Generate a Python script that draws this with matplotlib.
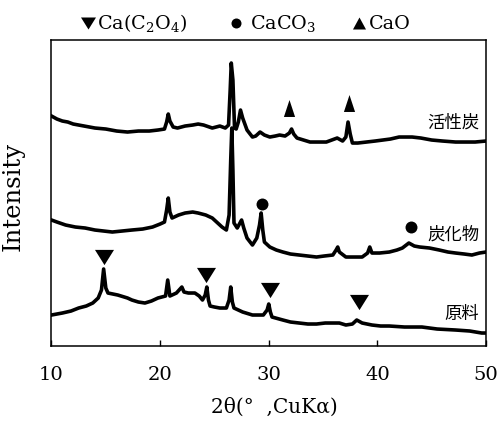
import matplotlib
matplotlib.use("Agg")
import matplotlib.pyplot as plt
from matplotlib.lines import Line2D

plt.rcParams["font.family"] = ["DejaVu Serif"]
plt.rcParams["mathtext.fontset"] = "dejavuserif"

# XRD patterns (2theta [deg], intensity [a.u.])
tt_act = [10.0, 10.5, 11.0, 11.5, 12.0, 12.5, 13.0, 13.5, 14.0, 15.0, 16.0, 17.0,
          18.0, 19.0, 19.8, 20.4, 20.6, 20.75, 20.9, 21.2, 21.6, 22.3, 23.0, 23.5,
          24.0, 24.8, 25.5, 26.0, 26.3, 26.45, 26.55, 26.7, 26.85, 27.0, 27.2, 27.4,
          27.6, 28.0, 28.5, 28.8, 29.2, 29.6, 30.1, 30.6, 31.0, 31.5, 31.9, 32.1,
          32.3, 32.6, 33.2, 33.8, 34.5, 35.3, 35.8, 36.3, 36.8, 37.1, 37.3, 37.5,
          37.7, 38.2, 39.0, 39.8, 40.5, 41.2, 42.0, 42.6, 43.2, 44.0, 45.0, 46.0,
          47.2, 48.0, 49.0, 50.0]
int_act = [229, 226, 224, 223, 221, 220, 219, 218, 217, 216, 214, 213,
           214, 214, 215, 216, 223, 231, 224, 218, 217, 219, 220, 221,
           220, 217, 219, 217, 220, 255, 282, 265, 217, 216, 223, 235,
           227, 215, 208, 209, 213, 210, 208, 209, 210, 209, 212, 216,
           211, 207, 205, 203, 203, 203, 205, 207, 204, 208, 223, 211,
           202, 202, 203, 204, 205, 206, 208, 208, 208, 207, 205, 204,
           203, 203, 203, 204]

tt_char = [10.0, 10.5, 11.3, 12.2, 13.1, 14.0, 14.8, 15.6, 16.5, 17.4, 18.4, 19.3,
           20.0, 20.4, 20.6, 20.75, 20.9, 21.1, 21.7, 22.3, 23.0, 23.5, 24.2, 24.8,
           25.2, 25.7, 26.1, 26.35, 26.5, 26.6, 26.7, 26.8, 27.1, 27.3, 27.5, 27.7,
           28.0, 28.5, 28.9, 29.15, 29.3, 29.45, 29.6, 30.1, 30.7, 31.3, 32.0, 32.8,
           33.6, 34.4, 35.1, 35.9, 36.2, 36.35, 36.5, 37.1, 37.8, 38.6, 39.1, 39.3,
           39.5, 40.2, 41.1, 41.8, 42.3, 42.9, 43.4, 43.9, 44.8, 45.7, 46.5, 47.2,
           48.0, 48.7, 49.4, 50.0]
int_char = [125, 123, 120, 118, 117, 115, 114, 113, 114, 115, 116, 118,
            121, 123, 135, 147, 133, 127, 130, 132, 133, 132, 130, 127,
            123, 118, 115, 130, 185, 217, 175, 122, 117, 121, 125, 117,
            107, 100, 107, 120, 132, 115, 103, 98, 95, 93, 91, 90,
            89, 88, 89, 90, 95, 98, 93, 88, 88, 88, 92, 98,
            92, 92, 93, 95, 97, 102, 99, 98, 97, 95, 93, 92,
            91, 90, 92, 93]

tt_raw = [10.0, 11.0, 11.8, 12.5, 13.2, 13.8, 14.3, 14.6, 14.8, 15.0, 15.2, 16.1,
          17.0, 17.4, 18.0, 18.6, 19.2, 19.8, 20.5, 20.7, 20.9, 21.5, 22.0, 22.2,
          22.6, 23.2, 23.6, 23.9, 24.15, 24.3, 24.45, 24.6, 25.0, 25.5, 26.1, 26.35,
          26.5, 26.65, 26.8, 27.6, 28.5, 29.5, 29.85, 30.0, 30.15, 30.3, 31.3, 32.0,
          32.8, 33.6, 34.4, 35.2, 35.9, 36.5, 37.1, 37.7, 38.1, 38.6, 39.5, 40.3,
          41.1, 42.5, 44.1, 45.5, 47.2, 48.5, 49.6, 50.0]
int_raw = [30, 32, 34, 37, 39, 42, 47, 55, 76, 57, 52, 50,
           47, 45, 43, 42, 44, 47, 49, 65, 49, 52, 58, 53,
           52, 52, 49, 45, 50, 58, 45, 39, 38, 37, 37, 45,
           58, 43, 37, 33, 30, 30, 35, 41, 33, 28, 25, 23,
           22, 21, 21, 22, 22, 22, 20, 21, 25, 22, 20, 19,
           19, 18, 18, 16, 15, 14, 12, 12]

# phase markers
ox_tt = [14.8, 24.2, 30.1, 38.3]
ox_int = [88, 70, 55, 43]
co3_tt = [29.35, 43.1]
co3_int = [141, 118]
cao_tt = [31.9, 37.4]
cao_int = [237, 242]

sample_names = ["活性炭", "炭化物", "原料"]
name_int = [222, 110, 31]

tri_down = [(-0.5, 0.4), (0.5, 0.4), (0.0, -0.4)]
tri_up = [(-0.33, -0.5), (0.33, -0.5), (0.0, 0.5)]

fig = plt.figure(figsize=(4.98, 4.21), dpi=100)
ax = fig.add_axes([0.1034, 0.1793, 0.8725, 0.7268])

for tt, inten in [(tt_act, int_act), (tt_char, int_char), (tt_raw, int_raw)]:
    ax.plot(tt, inten, color="black", lw=2.6, solid_joinstyle="round")

ax.plot(ox_tt, ox_int, ls="none", marker=tri_down, ms=13.7, color="black", mew=0)
ax.plot(co3_tt, co3_int, ls="none", marker="o", ms=8.6, color="black", mew=0)
ax.plot(cao_tt, cao_int, ls="none", marker=tri_up, ms=12.2, color="black", mew=0)

for name, y in zip(sample_names, name_int):
    ax.text(49.4, y, name, ha="right", va="center", fontsize=12.5,
            family=["Noto Sans CJK JP", "DejaVu Sans"])

ax.set_xlim(10, 50)
ax.set_ylim(-0.5, 305.5)
ax.set_xticks([10, 20, 30, 40, 50])
ax.set_yticks([])
ax.tick_params(axis="x", direction="in", length=4, width=1, pad=15, labelsize=14)
for s in ax.spines.values():
    s.set_linewidth(1.1)

ax.set_xlabel("2θ(°  ,CuKα)", fontsize=14.5)
ax.xaxis.set_label_coords(0.514, -0.17)
ax.set_ylabel("Intensity", fontsize=17.5)
ax.yaxis.set_label_coords(-0.062, 0.487)

# legend row above the plot
fig.add_artist(Line2D([87.5 / 498], [1 - 22.5 / 421], transform=fig.transFigure,
                      ls="none", marker=[(-0.5, 0.4), (0.5, 0.4), (0.0, -0.4)],
                      ms=10.8, color="black", mew=0))
fig.add_artist(Line2D([236 / 498], [1 - 23 / 421], transform=fig.transFigure,
                      ls="none", marker="o", ms=7.2, color="black", mew=0))
fig.add_artist(Line2D([358.5 / 498], [1 - 23 / 421], transform=fig.transFigure,
                      ls="none", marker=[(-0.5, -0.46), (0.5, -0.46), (0.0, 0.46)],
                      ms=9.4, color="black", mew=0))
fig.text(97 / 498, 1 - 29 / 421, r"Ca(C$_2$O$_4$)", fontsize=13.8, va="baseline")
fig.text(250 / 498, 1 - 29 / 421, r"CaCO$_3$", fontsize=13.8, va="baseline")
fig.text(369 / 498, 1 - 29 / 421, "CaO", fontsize=13.8, va="baseline")

fig.savefig("out.png", dpi=100)
